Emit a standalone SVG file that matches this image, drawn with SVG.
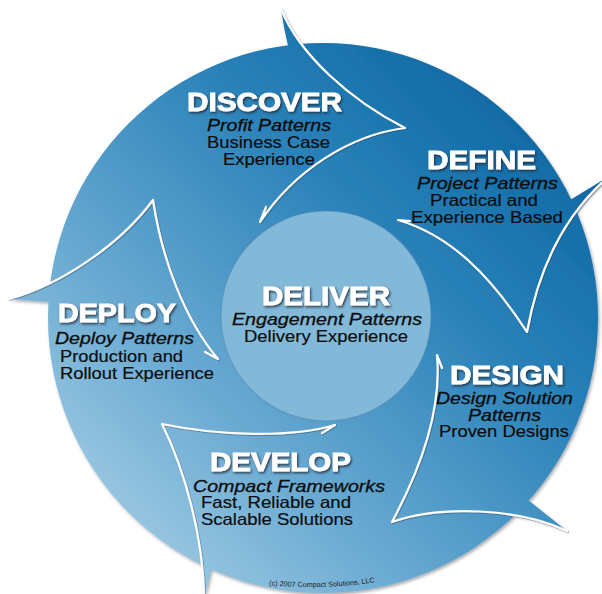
<svg xmlns="http://www.w3.org/2000/svg" width="602" height="594" viewBox="0 0 602 594">
<defs>
  <linearGradient id="ringGrad" gradientUnits="userSpaceOnUse" x1="560" y1="80" x2="90" y2="560">
    <stop offset="0" stop-color="#0863a0"/>
    <stop offset="0.35" stop-color="#2a82b9"/>
    <stop offset="0.7" stop-color="#6aaad2"/>
    <stop offset="1" stop-color="#a8d0e6"/>
  </linearGradient>
  <filter id="discShadow" x="-10%" y="-10%" width="120%" height="120%">
    <feDropShadow dx="1.5" dy="2" stdDeviation="1.6" flood-color="#404a55" flood-opacity="0.45"/>
  </filter>
  <filter id="lineShadow" x="-10%" y="-10%" width="120%" height="120%">
    <feDropShadow dx="0.8" dy="0.8" stdDeviation="0.6" flood-color="#1d3a55" flood-opacity="0.5"/>
  </filter>
  <filter id="titleShadow" x="-10%" y="-20%" width="120%" height="150%">
    <feDropShadow dx="1.2" dy="1.6" stdDeviation="0.8" flood-color="#1a2633" flood-opacity="0.85"/>
  </filter>
  <style>
    .title { font-family: "Liberation Sans", Arial, sans-serif; font-weight: bold; font-size: 26px; fill: #ffffff; stroke: #ffffff; stroke-width: 0.8px; filter: url(#titleShadow); }
    .sub { font-family: "Liberation Sans", Arial, sans-serif; font-style: italic; font-size: 16.5px; fill: #0d0d0d; stroke: #0d0d0d; stroke-width: 0.3px; }
    .body { font-family: "Liberation Sans", Arial, sans-serif; font-size: 16.5px; fill: #0d0d0d; stroke: #0d0d0d; stroke-width: 0.2px; }
    .copy { font-family: "Liberation Sans", Arial, sans-serif; font-size: 7.2px; fill: #1a1a1a; }
    .wl { fill: none; stroke: #ffffff; stroke-width: 2.2; stroke-linecap: round; stroke-linejoin: round; }
  </style>
</defs>

<g id="background" filter="url(#discShadow)" fill="url(#ringGrad)">
  <circle cx="323" cy="318" r="275"/>
  <path d="M289,50 Q284,30 281,9 C300,55 350,100 405,128 L330,110 Z"/>
  <path d="M570,200 L608,177 C570,210 540,260 527,332 L540,240 Z"/>
  <path d="M528,500 L567,531 C520,508 440,505 392,522 L480,505 Z"/>
  <path d="M212,566 L204,600 C204,540 185,470 162,424 L190,500 Z"/>
  <path d="M52,302 L9,299 C60,285 120,245 153,200 L90,270 Z"/>
</g>

<g id="deliver-disc">
  <circle cx="326" cy="316" r="105" fill="#82b8d8" stroke="#4f86ad" stroke-opacity="0.45" stroke-width="1.2"/>
</g>

<g id="connectors" filter="url(#lineShadow)">
  <path class="wl" d="M281,9 C300,55 350,100 405,128 C350,135 295,170 260,222 L266,207"/>
  <path class="wl" d="M608,177 C570,210 540,260 527,332 C490,275 450,235 398,220 L410,221"/>
  <path class="wl" d="M567,531 C520,508 440,505 392,522 C420,470 442,410 437,355 L442,368"/>
  <path class="wl" d="M204,600 C204,540 185,470 162,424 C220,436 290,438 335,425 L322,433"/>
  <path class="wl" d="M9,299 C60,285 120,245 153,200 C162,260 185,320 218,359 L205,352"/>
</g>

<g id="discover">
  <text class="title" x="187" y="111" textLength="155" lengthAdjust="spacingAndGlyphs">DISCOVER</text>
  <text class="sub" x="207" y="131" textLength="124" lengthAdjust="spacingAndGlyphs">Profit Patterns</text>
  <text class="body" x="207" y="148" textLength="123" lengthAdjust="spacingAndGlyphs">Business Case</text>
  <text class="body" x="223" y="165" textLength="92" lengthAdjust="spacingAndGlyphs">Experience</text>
</g>

<g id="define">
  <text class="title" x="427" y="169" textLength="109" lengthAdjust="spacingAndGlyphs">DEFINE</text>
  <text class="sub" x="417" y="188.5" textLength="141" lengthAdjust="spacingAndGlyphs">Project Patterns</text>
  <text class="body" x="430" y="205.5" textLength="108" lengthAdjust="spacingAndGlyphs">Practical and</text>
  <text class="body" x="411" y="222.5" textLength="152" lengthAdjust="spacingAndGlyphs">Experience Based</text>
</g>

<g id="deliver">
  <text class="title" x="262" y="305" textLength="128" lengthAdjust="spacingAndGlyphs">DELIVER</text>
  <text class="sub" x="232" y="325" textLength="190" lengthAdjust="spacingAndGlyphs">Engagement Patterns</text>
  <text class="body" x="244" y="342" textLength="164" lengthAdjust="spacingAndGlyphs">Delivery Experience</text>
</g>

<g id="design">
  <text class="title" x="450" y="384" textLength="114" lengthAdjust="spacingAndGlyphs">DESIGN</text>
  <text class="sub" x="436" y="404" textLength="137" lengthAdjust="spacingAndGlyphs">Design Solution</text>
  <text class="sub" x="468" y="420.5" textLength="73" lengthAdjust="spacingAndGlyphs">Patterns</text>
  <text class="body" x="439" y="437" textLength="130" lengthAdjust="spacingAndGlyphs">Proven Designs</text>
</g>

<g id="develop">
  <text class="title" x="210" y="471" textLength="141" lengthAdjust="spacingAndGlyphs">DEVELOP</text>
  <text class="sub" x="193" y="491.5" textLength="192" lengthAdjust="spacingAndGlyphs">Compact Frameworks</text>
  <text class="body" x="201" y="508" textLength="150" lengthAdjust="spacingAndGlyphs">Fast, Reliable and</text>
  <text class="body" x="201" y="525" textLength="152" lengthAdjust="spacingAndGlyphs">Scalable Solutions</text>
</g>

<g id="deploy">
  <text class="title" x="58" y="321.5" textLength="118" lengthAdjust="spacingAndGlyphs">DEPLOY</text>
  <text class="sub" x="55" y="344" textLength="139" lengthAdjust="spacingAndGlyphs">Deploy Patterns</text>
  <text class="body" x="60" y="361.5" textLength="123" lengthAdjust="spacingAndGlyphs">Production and</text>
  <text class="body" x="60" y="379" textLength="154" lengthAdjust="spacingAndGlyphs">Rollout Experience</text>
</g>

<g id="copyright">
  <path id="copyArc" d="M267,585 A450,450 0 0 0 377,582" fill="none"/>
  <text class="copy"><textPath href="#copyArc" startOffset="50%" text-anchor="middle">(c) 2007 Compact Solutions, LLC</textPath></text>
</g>
</svg>
